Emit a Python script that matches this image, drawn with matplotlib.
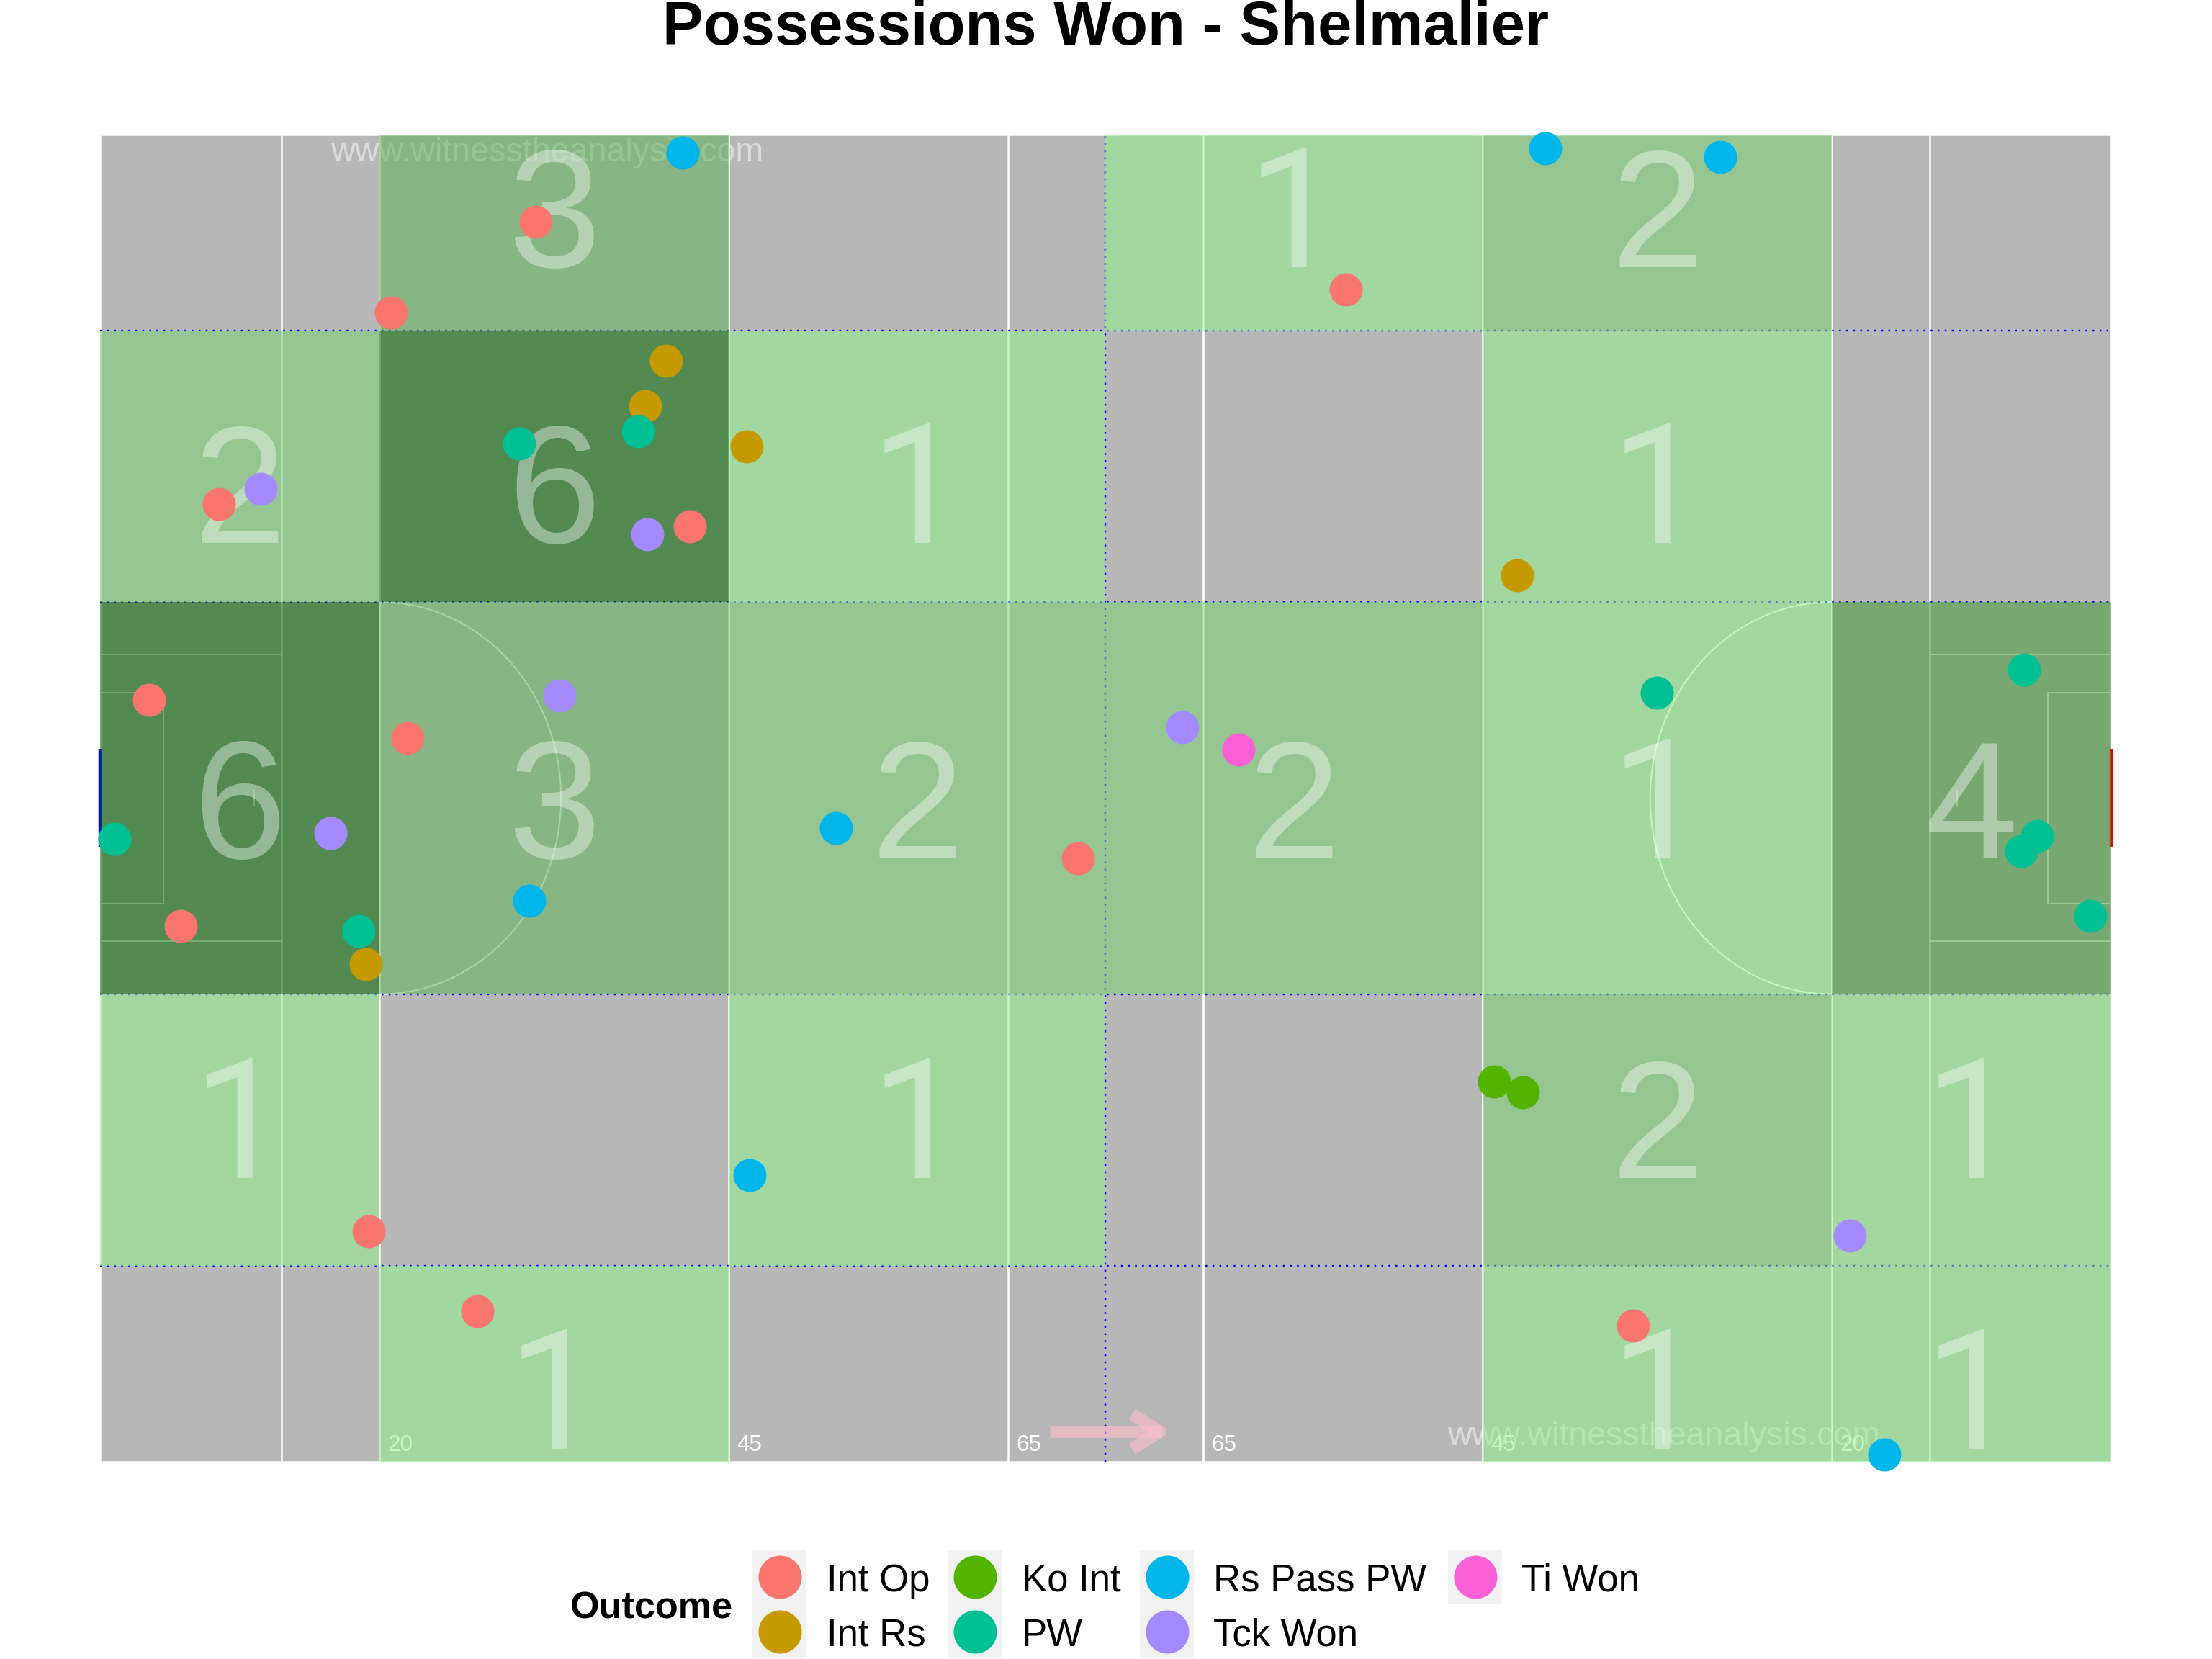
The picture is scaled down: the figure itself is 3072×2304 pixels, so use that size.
# Possessions won pitch map
import matplotlib
matplotlib.use("Agg")
import matplotlib.pyplot as plt
from matplotlib.patches import Rectangle, Arc

plt.rcParams["font.family"] = ["Liberation Sans", "DejaVu Sans"]

# Setting ################################################################################
PITCH_X = 144
PITCH_Y = 88
title = "Possessions Won - Shelmalier"
legend_title = "Outcome"
watermark = "www.witnesstheanalysis.com"

# zones
zone_x = [0, 20, 45, 72, 99, 124, 144]
zone_y = [0, 13, 31, 57, 75, 88]
label_x = [10, 32.5, 58.5, 85.5, 111.5, 134]
label_base = [0.85, 18.8, 40.0, 60.9, 79.2]
# counts per zone, bottom row first
zone_counts = [
    [0, 1, 0, 0, 1, 1],
    [1, 0, 1, 0, 2, 1],
    [6, 3, 2, 2, 1, 4],
    [2, 6, 1, 0, 1, 0],
    [0, 3, 0, 1, 2, 0],
]
zone_colors = {1: "#91F28E", 2: "#7AD374", 3: "#60B459", 4: "#459B3A", 6: "#006600"}

# pitch markings
white_vlines = [13, 20, 45, 65, 79, 99, 124, 131]
dist_labels = ["20", "45", "65", "65", "45", "20"]
dist_x = [20, 45, 65, 79, 99, 124]

# points by outcome
outcomes = ["Int Op", "Int Rs", "Ko Int", "PW", "Rs Pass PW", "Tck Won", "Ti Won"]
colors = ["#F8766D", "#C49A00", "#53B400", "#00C094", "#00B6EB", "#A58AFF", "#FB61D7"]

int_op_x = [3.5, 5.75, 8.5, 20.8, 22.0, 31.2, 42.2, 19.2, 27.0, 70.0, 89.2, 109.8]
int_op_y = [50.5, 35.5, 63.5, 76.2, 48.0, 82.2, 62.0, 15.3, 10.0, 40.0, 77.7, 9.0]
int_rs_x = [40.5, 39.0, 46.3, 19.0, 101.5]
int_rs_y = [73.0, 70.0, 67.3, 33.0, 58.75]
ko_int_x = [99.8, 101.9]
ko_int_y = [25.2, 24.5]
pw_x = [1.0, 18.5, 30.0, 38.5, 111.5, 137.8, 138.7, 137.6, 142.5]
pw_y = [41.3, 35.2, 67.5, 68.3, 51.0, 52.5, 41.5, 40.5, 36.2]
rs_pass_x = [41.7, 52.7, 30.7, 46.5, 103.5, 116.0, 127.8]
rs_pass_y = [86.8, 42.0, 37.2, 19.0, 87.1, 86.5, 0.5]
tck_won_x = [11.5, 16.5, 32.9, 39.2, 77.5, 125.3]
tck_won_y = [64.5, 41.7, 50.8, 61.5, 48.7, 15.0]
ti_won_x = [81.5]
ti_won_y = [47.2]

xs = [int_op_x, int_rs_x, ko_int_x, pw_x, rs_pass_x, tck_won_x, ti_won_x]
ys = [int_op_y, int_rs_y, ko_int_y, pw_y, rs_pass_y, tck_won_y, ti_won_y]

W, H, DPI = 3072, 2304, 200
LINE = 2.5 / DPI * 72  # 2.5 px

# Plot ###################################################################################
fig = plt.figure(figsize=(W / DPI, H / DPI), dpi=DPI)
ax = fig.add_axes([139.3 / W, 1 - 2030 / H, (2931.6 - 139.3) / W, (2030 - 186.7) / H])
ax.set_xlim(0, PITCH_X)
ax.set_ylim(0, PITCH_Y)
ax.axis("off")

ax.add_patch(Rectangle((0, 0), PITCH_X, PITCH_Y, fc="#B7B7B7", ec="white", lw=LINE, zorder=1, clip_on=False))

# white markings, they sit under the zone tiles
for x in white_vlines:
    ax.plot([x, x], [0, PITCH_Y], color="white", lw=LINE, zorder=2, solid_capstyle="butt")
for x0, x1 in [(0, 13), (131, 144)]:
    ax.plot([x0, x1], [34.5, 34.5], color="white", lw=LINE * 0.8, zorder=2)
    ax.plot([x0, x1], [53.5, 53.5], color="white", lw=LINE * 0.8, zorder=2)
ax.plot([0, 4.5, 4.5, 0], [37, 37, 51, 51], color="white", lw=LINE * 0.8, zorder=2)
ax.plot([144, 139.5, 139.5, 144], [37, 37, 51, 51], color="white", lw=LINE * 0.8, zorder=2)
ax.plot([11, 11], [43.5, 44.5], color="white", lw=LINE * 0.8, zorder=2)
ax.plot([133, 133], [43.5, 44.5], color="white", lw=LINE * 0.8, zorder=2)
ax.add_patch(Arc((20, 44), 26, 26, theta1=-90, theta2=90, color="white", lw=LINE * 0.8, zorder=2))
ax.add_patch(Arc((124, 44), 26, 26, theta1=90, theta2=270, color="white", lw=LINE * 0.8, zorder=2))

for x, lab in zip(dist_x, dist_labels):
    ax.text(x + 1.5, 1.1, lab, color="white", fontsize=11.3, ha="center", va="center", zorder=2)

# zone dividers and goals
for y in zone_y[1:-1]:
    ax.plot([0, PITCH_X], [y, y], color="blue", lw=0.88, ls=(0, (1, 3)), dash_capstyle="butt", zorder=2.5)
ax.plot([72, 72], [0, PITCH_Y], color="blue", lw=0.88, ls=(0, (1, 3)), dash_capstyle="butt", zorder=2.5)
ax.plot([0, 0], [40.75, 47.25], color="blue", lw=1.6, solid_capstyle="butt", zorder=2.5, clip_on=False)
ax.plot([144, 144], [40.75, 47.25], color="red", lw=1.6, solid_capstyle="butt", zorder=2.5, clip_on=False)

# watermarks
ax.text(32, 86.2, watermark, color="white", alpha=0.5, fontsize=16.8, ha="center", va="baseline", zorder=2)
ax.text(112, 1.11, watermark, color="white", alpha=0.5, fontsize=16.8, ha="center", va="baseline", zorder=2)

# arrow of play
ax.plot([68, 76], [2, 2], color="#FFC0CB", alpha=0.6, lw=6.1, solid_capstyle="butt", zorder=2.6)
ax.plot([73.9, 75.9, 73.9], [3.15, 2, 0.85], color="#FFC0CB", alpha=0.6, lw=6.1,
        solid_capstyle="butt", solid_joinstyle="round", zorder=2.6)

# zone tiles
for r, row in enumerate(zone_counts):
    for c, n in enumerate(row):
        if n == 0:
            continue
        ax.add_patch(Rectangle((zone_x[c], zone_y[r]), zone_x[c + 1] - zone_x[c], zone_y[r + 1] - zone_y[r],
                               fc=zone_colors[n], ec="none", alpha=0.55, zorder=3))
        # Liberation's 1 has a foot that the picture's has not
        fam = "Roboto" if n == 1 else "Liberation Sans"
        ax.text(label_x[c], label_base[r], str(n), color="white", alpha=0.4, fontsize=83.5, family=fam,
                ha="center", va="baseline", zorder=4)

for x, y, col in zip(xs, ys, colors):
    ax.scatter(x, y, s=274, color=col, linewidths=0, zorder=6, clip_on=False)

# title and legend, laid out in figure pixels
fig.text(0.5, 1 - 62 / H, title, fontsize=30.6, fontweight="bold", ha="center", va="baseline")

lax = fig.add_axes([0, 0, 1, 1], zorder=10)
lax.set_xlim(0, W)
lax.set_ylim(H, 0)
lax.axis("off")
key_left = [1045, 1045, 1316, 1316, 1583, 1583, 2011]
key_top = [2152, 2228, 2152, 2228, 2152, 2228, 2152]
label_left = [1148, 1148, 1419, 1419, 1685, 1685, 2113]
for i, name in enumerate(outcomes):
    lax.add_patch(Rectangle((key_left[i], key_top[i]), 75, 75, fc="#F2F2F2", ec="none"))
    lax.scatter(key_left[i] + 37.5, key_top[i] + 37.5, s=467, color=colors[i], linewidths=0)
    lax.text(label_left[i], key_top[i] + 58, name, fontsize=19, ha="left", va="baseline")
lax.text(792, 2247, legend_title, fontsize=18.8, fontweight="bold", ha="left", va="baseline")

fig.savefig("out.png", dpi=DPI)
